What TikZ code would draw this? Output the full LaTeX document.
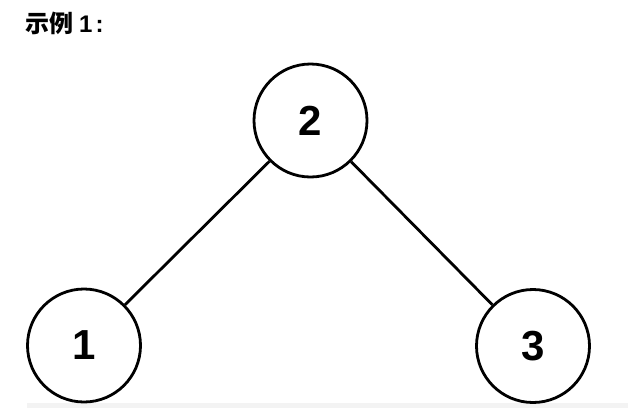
\documentclass[tikz,border=0pt]{standalone}
\usepackage{fontspec}
\setmainfont{Liberation Sans}
\newfontfamily\cjk{Noto Sans CJK SC}
\definecolor{bandgray}{HTML}{F3F3F3}
\begin{document}
\begin{tikzpicture}[x=1pt,y=-1pt,
  treenode/.style={circle,draw=black,line width=2.8pt,minimum size=113pt,inner sep=0pt,
    font=\fontsize{42}{42}\selectfont\bfseries},
  edge/.style={draw=black,line width=2.8pt},
  title/.style={anchor=base west,inner sep=0pt,font=\fontsize{24}{24}\selectfont\bfseries}]
\useasboundingbox (0,0) rectangle (628,408);
\fill[white] (0,0) rectangle (628,408);
\fill[bandgray] (27,403) rectangle (628,408);
\node[title] (ttl) at (25,32) {{\cjk\bfseries 示例}\hspace{6pt}1\hspace{3pt}:};
\node[treenode] (n2) at (310.5,120.5) {2};
\node[treenode] (n1) at (84,345.5) {1};
\node[treenode] (n3) at (533,346) {3};
\path[edge] (n2) -- (n1);
\path[edge] (n2) -- (n3);
\end{tikzpicture}
\end{document}
